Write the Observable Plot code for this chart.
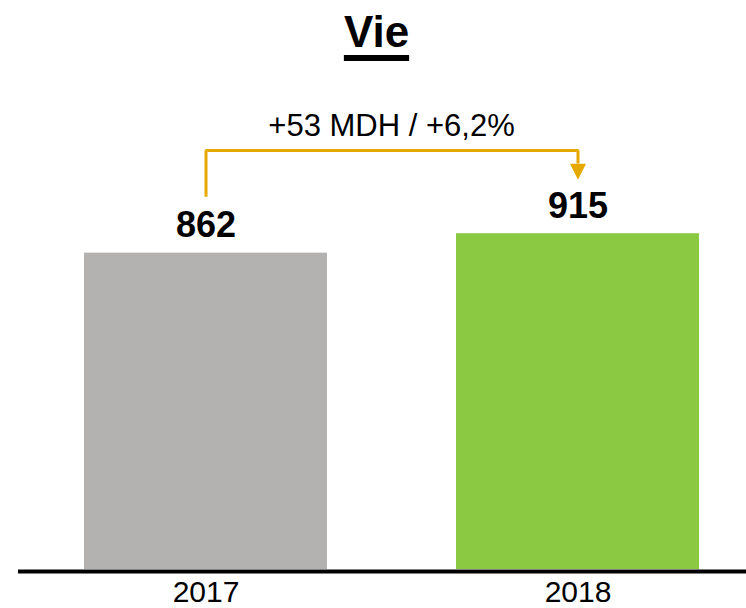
<!DOCTYPE html>
<html>
<head>
<meta charset="utf-8">
<script src="https://cdn.jsdelivr.net/npm/d3@7"></script>
<script src="https://cdn.jsdelivr.net/npm/@observablehq/plot@0.6"></script>
<style>
  body { margin: 0; background: #fff; font-family: "Liberation Sans", Arial, sans-serif; }
  #title { height: 72px; box-sizing: border-box; padding-top: 10px; padding-left: 7px; text-align: center;
           font: bold 44px "Liberation Sans", Arial, sans-serif; line-height: 44px; color: #000; }
  #title span { text-decoration: underline; text-decoration-thickness: 6px; text-underline-offset: 8px; }
</style>
</head>
<body>
<div id="title"><span>Vie</span></div>
<div id="chart"></div>
<script>
const title = "Vie";
const years = ["2017", "2018"];
const values = [862, 915];
const barColors = ["#B3B2B1", "#8BC943"];
const deltaLabel = "+53 MDH / +6,2%";

const data = years.map((year, i) => ({year, value: values[i], color: barColors[i]}));

// bracket annotation levels (in value units, above the bar labels)
const legStart = values[0] + 154;
const bracketTop = 1142;
const arrowBase = 1106;
const arrowCenter = 1084;
const bracketColor = "#E6A900";

const downTriangle = {
  draw(ctx, size) {
    const r = Math.sqrt(size / Math.PI);
    ctx.moveTo(-r, -r);
    ctx.lineTo(r, -r);
    ctx.lineTo(0, r);
    ctx.closePath();
  }
};

const chart = Plot.plot({
  width: 746,
  height: 536,
  marginTop: 130,
  marginBottom: 39,
  marginLeft: 37,
  marginRight: 1,
  style: {fontFamily: "'Liberation Sans', Arial, sans-serif", fontSize: "30px", color: "#000", background: "#fff"},
  x: {domain: years, paddingInner: 0.347, paddingOuter: 0.125, label: null},
  y: {domain: [0, 1000], axis: null},
  marks: [
    Plot.barY(data, {x: "year", y: "value", fill: "color"}),
    Plot.ruleY([0], {stroke: "#000", strokeWidth: 4, insetLeft: -19, insetRight: -1, dy: 2}),
    Plot.axisX({tickSize: 0, tickPadding: 11, fontSize: 30, label: null}),
    Plot.text(data, {x: "year", y: "value", text: d => String(d.value), dy: -16, lineAnchor: "bottom",
                     fontSize: 36, fontWeight: "bold", fill: "#000"}),
    Plot.line([
      {x: years[0], y: legStart},
      {x: years[0], y: bracketTop},
      {x: years[1], y: bracketTop},
      {x: years[1], y: arrowBase}
    ], {x: "x", y: "y", stroke: bracketColor, strokeWidth: 3, strokeLinejoin: "miter", strokeLinecap: "butt"}),
    Plot.dot([{x: years[1], y: arrowCenter}], {x: "x", y: "y", symbol: downTriangle, r: 8, fill: bracketColor, stroke: null}),
    Plot.text([deltaLabel], {frameAnchor: "top", text: d => d, dy: -67, lineAnchor: "bottom", fontSize: 31, fill: "#000"})
  ]
});
document.getElementById("chart").appendChild(chart);
</script>
</body>
</html>
